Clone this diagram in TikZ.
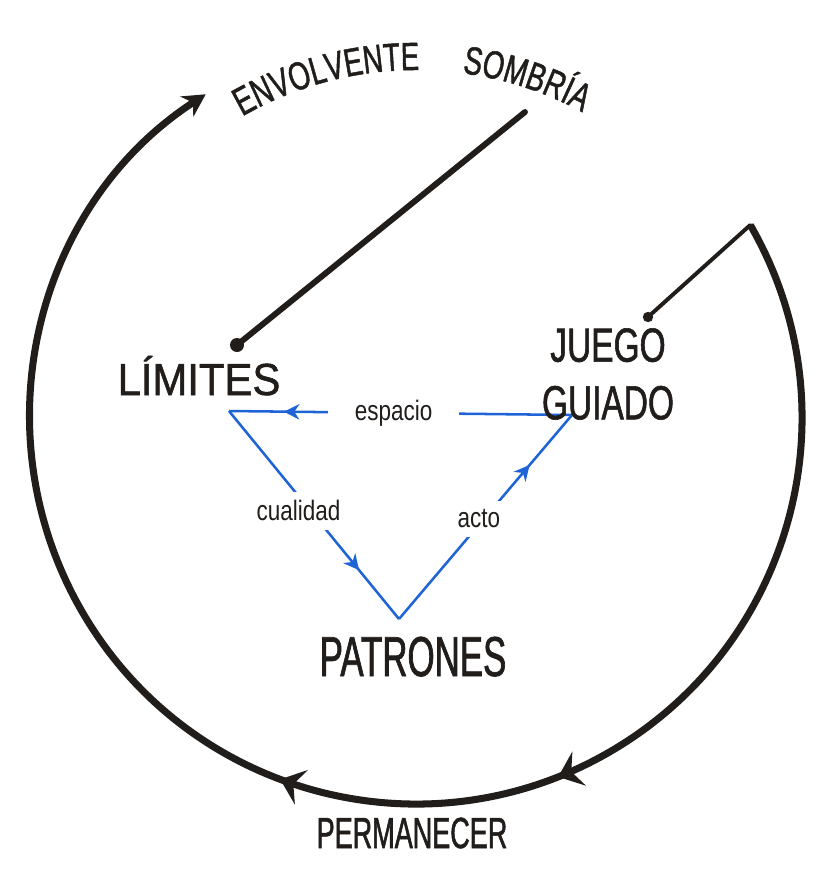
\documentclass[tikz,border=0pt]{standalone}
\usepackage{fontspec}
\newfontfamily\handfont{Liberation Sans}[FakeStretch=0.7,FakeBold=1.2]
\newfontfamily\handwide{Liberation Sans}[FakeStretch=0.93,FakeBold=1.2]
\newfontfamily\handnarrow{Liberation Sans}[FakeStretch=0.62,FakeBold=1.2]
\newfontfamily\handsmall{Liberation Sans}[FakeStretch=0.8]
\usetikzlibrary{arrows.meta}
\usetikzlibrary{decorations.markings}
\usetikzlibrary{decorations.text}
\pgfdeclarelayer{edgelayer}
\pgfdeclarelayer{nodelayer}
\pgfsetlayers{edgelayer,nodelayer,main}
\definecolor{ink}{RGB}{32,29,27}
\definecolor{pen}{RGB}{30,100,215}
\tikzstyle{concept}=[text=ink,inner sep=0pt]
\tikzstyle{relation}=[text=ink,fill=white,font=\handsmall\fontsize{20}{22}\selectfont]
\tikzstyle{cycle}=[draw=ink,line width=5pt]
\tikzstyle{pointer}=[draw=ink,line width=4.2pt,line cap=round]
\tikzstyle{flow}=[draw=pen,line width=1.8pt]
\tikzset{midarrow/.style={postaction={decorate},decoration={markings,
  mark=at position #1 with {\arrow{Stealth[length=11pt,width=11pt]}}}}}

\begin{document}
\begin{tikzpicture}
	\begin{pgfonlayer}{nodelayer}
		\node [style=concept, anchor=base, font=\handwide\fontsize{32}{34}\selectfont] (0) at (4.975, -9.875) {LÍMITES};
		\node [style=concept, anchor=north, align=center, font=\handfont\fontsize{34}{41}\selectfont] (1) at (15.2, -8.2) {JUEGO\\GUIADO};
		\node [style=concept, anchor=base, font=\handnarrow\fontsize{40}{42}\selectfont] (2) at (10.325, -16.9) {PATRONES};
		\node [style=concept, anchor=base, font=\handnarrow\fontsize{31}{33}\selectfont] (3) at (10.3, -21.2) {PERMANECER};
		\coordinate (4) at (5.725, -10.275);
		\coordinate (5) at (14.3, -10.375);
		\coordinate (6) at (9.975, -15.475);
		\coordinate (7) at (5.925, -8.625);
		\coordinate (8) at (13.125, -2.8);
		\coordinate (9) at (16.2, -7.925);
		\coordinate (10) at (18.757, -5.625);
		\coordinate (11) at (5.972, -2.962);
		\coordinate (12) at (11.551, -1.826);
	\end{pgfonlayer}
	\begin{pgfonlayer}{edgelayer}
		\fill [white] (0, 0) rectangle (20.8, -21.85);
		\useasboundingbox (0, 0) rectangle (20.8, -21.85);
		\draw [style=cycle, -{Stealth[length=16pt,width=17pt]}, postaction={decorate}, decoration={markings,
			mark=at position 0.3685 with {\arrow{Stealth[length=16pt,width=26pt,inset=6pt]}},
			mark=at position 0.5266 with {\arrow{Stealth[length=16pt,width=26pt,inset=6pt]}}}]
			(10) arc [start angle=30, end angle=-237, radius=9.65];
		\path [decorate, decoration={text along path, text align=center,
			text={|\handfont\fontsize{28}{30}\selectfont\color{ink}|ENVOLVENTE}}]
			(11) arc [start angle=120.6, end angle=88.8, radius=8.7];
		\path [decorate, decoration={text along path, text align=center,
			text={|\handfont\fontsize{28}{30}\selectfont\color{ink}|SOMBRÍA}}]
			(12) arc [start angle=82.4, end angle=61.4, radius=8.7];
		\draw [style=pointer] (8) to (7);
		\fill [ink] (7) circle [radius=0.175];
		\draw [style=pointer, line width=2.8pt] (10) to (9);
		\fill [ink] (9) circle [radius=0.13];
		\draw [style=flow, midarrow=0.84] (5) to node[style=relation, pos=0.52, inner xsep=19pt]{espacio} (4);
		\draw [style=flow, midarrow=0.765] (4) to node[style=relation, pos=0.48, xshift=-0.3cm, inner ysep=6pt]{cualidad} (6);
		\draw [style=flow, midarrow=0.755] (6) to node[style=relation, pos=0.49, xshift=-0.125cm, inner ysep=6.5pt]{acto} (5);
	\end{pgfonlayer}
\end{tikzpicture}
\end{document}
